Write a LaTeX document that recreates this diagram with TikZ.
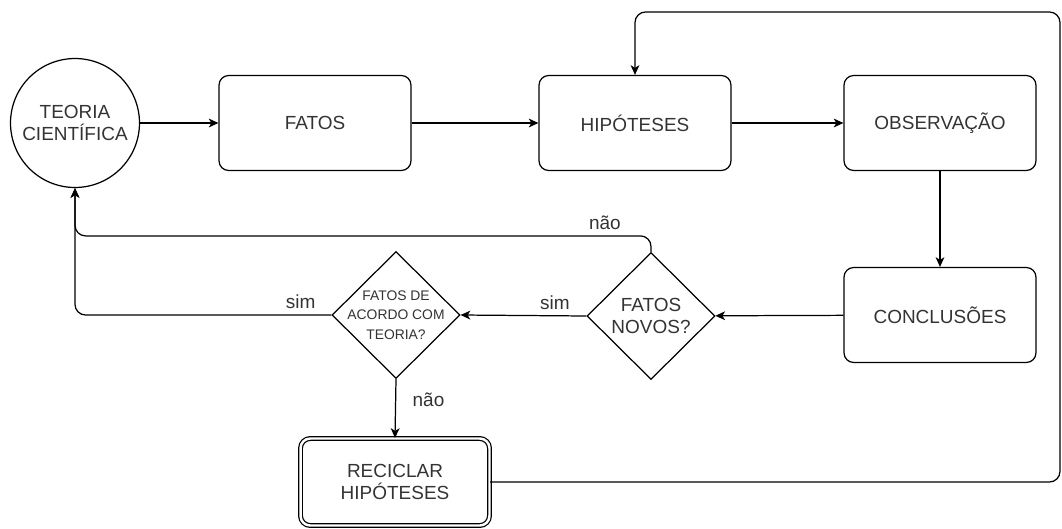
\documentclass[tikz,border=0pt]{standalone}
\usepackage{fontspec}
\setmainfont{Liberation Sans}
\usepackage{xcolor}
\usepackage{tikz}
\usetikzlibrary{arrows.meta, positioning, shapes.geometric, calc}

\definecolor{texto}{HTML}{333333}

\begin{document}
\begin{tikzpicture}[x=0.02cm, y=-0.02cm, line width=0.7pt,
  every node/.style={text=texto, font=\fontsize{10.8}{12}\selectfont, align=center},
  caixa/.style={draw=black, rounded corners=5.5pt, minimum width=3.84cm, minimum height=1.9cm, inner sep=0pt},
  caixadupla/.style={caixa, double, double distance=1.4pt, minimum width=3.78cm, minimum height=1.74cm},
  circulo/.style={draw=black, circle, minimum size=2.58cm, inner sep=0pt},
  losango/.style={draw=black, diamond, minimum width=2.56cm, minimum height=2.54cm, inner sep=0pt},
  seta/.style={-{Stealth[length=5.5pt, width=5pt, inset=1.5pt]}},
  rotulo/.style={font=\fontsize{10.8}{12}\selectfont}]
\useasboundingbox (0,0) rectangle (1062,528);

% linha de cima
\draw (75,123) node[circulo] (teoria) {TEORIA\\CIENTÍFICA};
\draw (315,123) node[caixa] (fatos) {FATOS};
\draw (635,123) node[caixa] (hipoteses) {HIPÓTESES};
\draw (940,123) node[caixa] (observacao) {OBSERVAÇÃO};

% linha do meio
\draw (940,315) node[caixa] (conclusoes) {CONCLUSÕES};
\draw (651,316) node[losango] (novos) {FATOS\\NOVOS?};
\draw (396,315) node[losango, inner sep=-3pt] (acordo) {\fontsize{7.9}{12.5}\selectfont FATOS DE\\[-1pt]\fontsize{7.9}{12.5}\selectfont ACORDO COM\\[-1pt]\fontsize{7.9}{12.5}\selectfont TEORIA?};

% embaixo
\draw (395,482) node[caixadupla] (reciclar) {RECICLAR\\HIPÓTESES};
\coordinate (volta) at (1060,12);

% setas
\draw[seta] (teoria) -- (fatos);
\draw[seta] (fatos) -- (hipoteses);
\draw[seta] (hipoteses) -- (observacao);
\draw[seta] (observacao) -- (conclusoes);
\draw[seta] (conclusoes) -- (novos);
\draw[seta] (novos.west) -- node[rotulo, above, pos=0.25] {sim} (acordo.east);
\draw[seta, rounded corners=6pt] (acordo.west) -| node[rotulo, above, pos=0.06] {sim} (teoria.south);
\draw[seta, rounded corners=6pt] (novos.north) -- ++(0,-16) -| node[rotulo, above, pos=0.04] {não} (teoria.south);
\draw[seta] (acordo.south) -- node[rotulo, right=6pt, pos=0.35] {não} (reciclar.north);
\draw[seta, rounded corners=6pt] (reciclar.east) -| (volta) -| (hipoteses.north);
\end{tikzpicture}
\end{document}
